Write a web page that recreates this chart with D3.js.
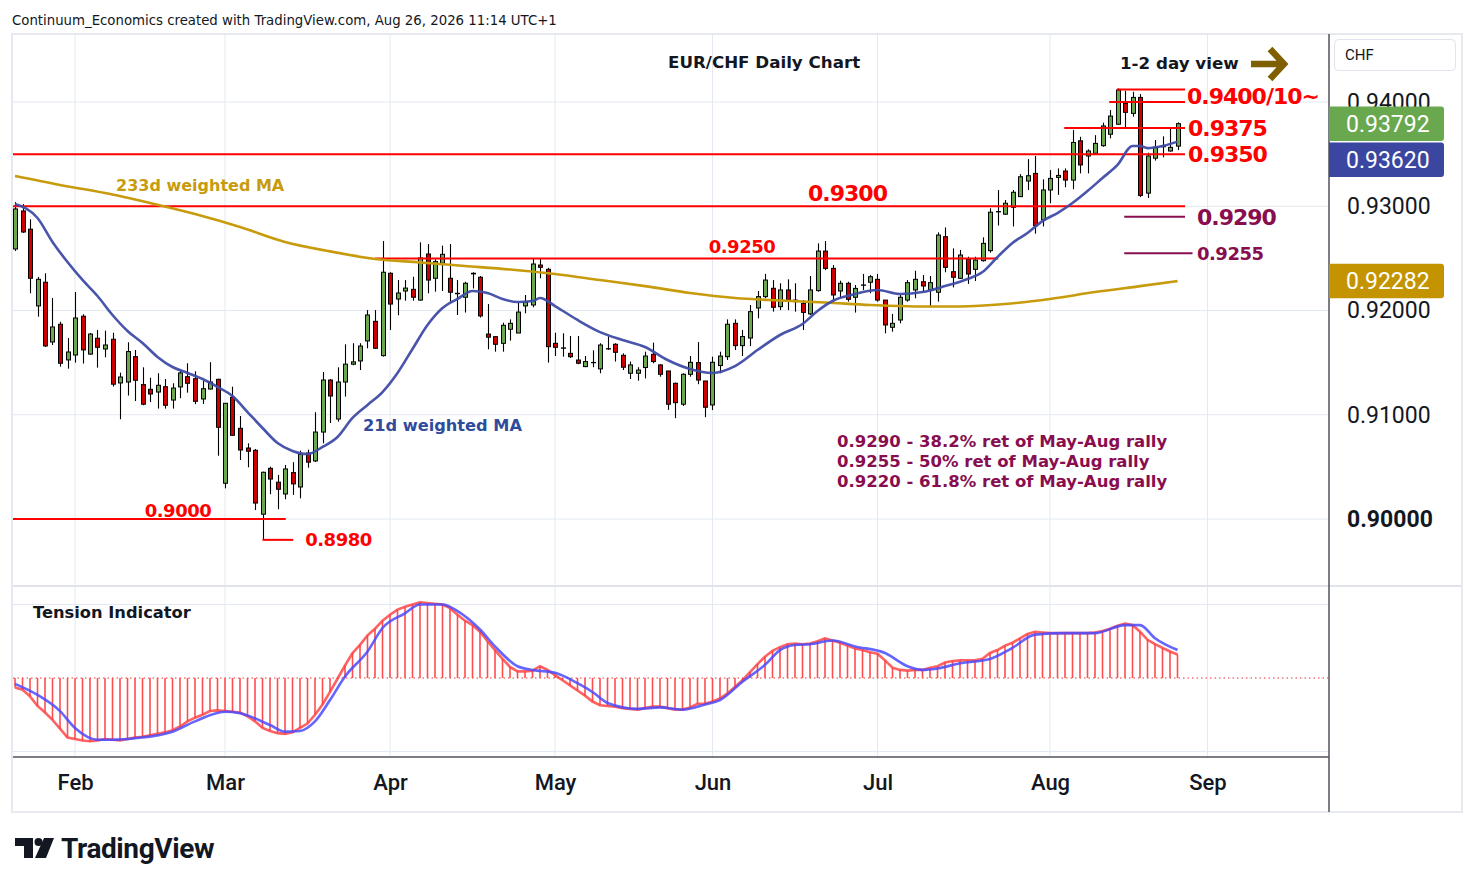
<!DOCTYPE html>
<html>
<head>
<meta charset="utf-8">
<script src="https://cdn.jsdelivr.net/npm/d3@7"></script>
<style>
body { margin: 0; background: #fff; }
svg { display: block; }
.lbl { font-family: "DejaVu Sans", Verdana, sans-serif; font-weight: bold; }
.axis text { font-family: Roboto, "Liberation Sans", sans-serif; fill: #131722; }
</style>
</head>
<body>
<div id="chart"></div>
<script>
// ---- data (bar index 1 = 21 Jan 2026, weekdays only) ----
var opens = [0.92590,0.92955,0.92780,0.92044,0.92271,0.91698,0.91868,0.91526,0.91573,0.91945,
  0.91582,0.91734,0.91631,0.91724,0.91305,0.91314,0.91557,0.91289,0.91244,0.91218,
  0.91269,0.91141,0.91267,0.91365,0.91346,0.91151,0.91247,0.91340,0.90343,0.91168,
  0.90870,0.90681,0.90659,0.90046,0.90486,0.90353,0.90240,0.90445,0.90307,0.90633,
  0.90557,0.90834,0.91333,0.90959,0.91314,0.91485,0.91516,0.91708,0.91896,0.91567,
  0.92357,0.92110,0.92187,0.92203,0.92100,0.92542,0.92309,0.92453,0.92309,0.92165,
  0.92127,0.92351,0.92319,0.91774,0.91749,0.91685,0.91820,0.91784,0.92044,0.92053,
  0.92436,0.92395,0.91685,0.91641,0.91589,0.91525,0.91462,0.91500,0.91440,0.91631,
  0.91676,0.91570,0.91398,0.91398,0.91453,0.91580,0.91478,0.91420,0.91302,0.91101,
  0.91388,0.91500,0.91324,0.91094,0.91472,0.91557,0.91877,0.91663,0.91736,0.92024,
  0.92133,0.92213,0.92037,0.92197,0.92100,0.92069,0.91967,0.92191,0.92570,0.92404,
  0.92187,0.92261,0.92127,0.92242,0.92271,0.92299,0.92100,0.91839,0.91909,0.92100,
  0.92197,0.92276,0.92197,0.92175,0.92708,0.92372,0.92309,0.92491,0.92395,0.92478,
  0.92574,0.92947,0.92924,0.92990,0.93092,0.93242,0.93315,0.92869,0.93156,0.93277,
  0.93338,0.93251,0.93628,0.93482,0.93508,0.93581,0.93691,0.93787,0.93987,0.93891,
  0.94044,0.93126,0.93461,0.93571,0.93530,0.93577];
var highs = [0.93040,0.93021,0.92875,0.92321,0.92357,0.92120,0.91892,0.91736,0.92177,0.91964,
  0.91784,0.91813,0.91807,0.91787,0.91404,0.91695,0.91621,0.91455,0.91355,0.91398,
  0.91343,0.91302,0.91429,0.91494,0.91417,0.91324,0.91504,0.91346,0.91113,0.91269,
  0.90988,0.90726,0.90672,0.90455,0.90502,0.90423,0.90518,0.90545,0.90656,0.90665,
  0.91024,0.91410,0.91343,0.91455,0.91676,0.91686,0.91686,0.92004,0.92004,0.92666,
  0.92367,0.92292,0.92292,0.92324,0.92654,0.92637,0.92491,0.92622,0.92637,0.92292,
  0.92276,0.92367,0.92331,0.92062,0.91755,0.91883,0.91915,0.92072,0.92149,0.92501,
  0.92501,0.92410,0.91787,0.91781,0.91755,0.91755,0.91563,0.91618,0.91686,0.91752,
  0.91686,0.91589,0.91510,0.91456,0.91605,0.91692,0.91485,0.91420,0.91308,0.91398,
  0.91563,0.91697,0.91324,0.91557,0.91605,0.91915,0.91915,0.91813,0.92053,0.92187,
  0.92351,0.92292,0.92261,0.92299,0.92261,0.92100,0.92331,0.92644,0.92666,0.92436,
  0.92286,0.92276,0.92245,0.92351,0.92340,0.92351,0.92100,0.91967,0.92149,0.92292,
  0.92381,0.92340,0.92331,0.92749,0.92797,0.92596,0.92581,0.92516,0.92516,0.92702,
  0.92981,0.93156,0.93060,0.93156,0.93308,0.93452,0.93483,0.93258,0.93347,0.93363,
  0.93363,0.93731,0.93666,0.93546,0.93682,0.93802,0.93923,0.94130,0.94107,0.94098,
  0.94076,0.93514,0.93636,0.93671,0.93756,0.93804];
var lows = [0.92571,0.92744,0.92165,0.91941,0.91651,0.91669,0.91461,0.91442,0.91500,0.91491,
  0.91575,0.91452,0.91551,0.91270,0.90957,0.91184,0.91132,0.91091,0.91122,0.91059,
  0.91059,0.91059,0.91159,0.91212,0.91101,0.91104,0.91242,0.90607,0.90294,0.90796,
  0.90566,0.90496,0.90086,0.89798,0.90238,0.90094,0.90189,0.90231,0.90198,0.90492,
  0.90547,0.90726,0.90921,0.90934,0.91174,0.91475,0.91429,0.91638,0.91631,0.91558,
  0.91813,0.91954,0.92094,0.92094,0.92094,0.92165,0.92181,0.92187,0.92085,0.91957,
  0.91980,0.92212,0.91932,0.91628,0.91605,0.91605,0.91711,0.91784,0.91973,0.92031,
  0.92309,0.91500,0.91564,0.91557,0.91545,0.91485,0.91456,0.91456,0.91398,0.91621,
  0.91510,0.91429,0.91343,0.91327,0.91349,0.91494,0.91365,0.91047,0.90967,0.91085,
  0.91365,0.91293,0.90977,0.91046,0.91398,0.91525,0.91621,0.91563,0.91659,0.91925,
  0.92117,0.91989,0.92004,0.92004,0.91989,0.91813,0.91957,0.92181,0.92387,0.92085,
  0.92117,0.92085,0.91980,0.92197,0.92165,0.92085,0.91781,0.91797,0.91877,0.92085,
  0.92117,0.92181,0.92037,0.92085,0.92367,0.92222,0.92302,0.92255,0.92283,0.92469,
  0.92555,0.92815,0.92917,0.92806,0.93092,0.93156,0.92737,0.92806,0.93029,0.93109,
  0.93182,0.93163,0.93315,0.93315,0.93502,0.93571,0.93652,0.93780,0.93749,0.93859,
  0.93088,0.93079,0.93438,0.93470,0.93524,0.93539];
var closes = [0.92974,0.92753,0.92309,0.92299,0.91660,0.91842,0.91494,0.91602,0.91928,0.91622,
  0.91774,0.91647,0.91669,0.91293,0.91362,0.91606,0.91331,0.91101,0.91199,0.91283,
  0.91091,0.91256,0.91401,0.91302,0.91129,0.91250,0.91314,0.90880,0.91110,0.90803,
  0.90662,0.90650,0.90153,0.90448,0.90383,0.90285,0.90480,0.90337,0.90621,0.90545,
  0.90834,0.91333,0.91180,0.91314,0.91485,0.91507,0.91659,0.91957,0.91638,0.92367,
  0.92062,0.92168,0.92215,0.92127,0.92504,0.92292,0.92469,0.92539,0.92175,0.92161,
  0.92261,0.92357,0.91948,0.91744,0.91676,0.91858,0.91877,0.91985,0.92078,0.92446,
  0.92414,0.91653,0.91647,0.91638,0.91557,0.91494,0.91510,0.91502,0.91669,0.91634,
  0.91599,0.91456,0.91478,0.91429,0.91563,0.91510,0.91388,0.91101,0.91116,0.91388,
  0.91503,0.91333,0.91072,0.91503,0.91563,0.91868,0.91663,0.91750,0.91989,0.92133,
  0.92292,0.92031,0.92197,0.92100,0.92085,0.91982,0.92197,0.92570,0.92404,0.92149,
  0.92261,0.92107,0.92212,0.92245,0.92324,0.92100,0.91861,0.91877,0.92127,0.92267,
  0.92299,0.92235,0.92267,0.92724,0.92414,0.92319,0.92532,0.92350,0.92484,0.92644,
  0.92943,0.92949,0.93029,0.93134,0.93283,0.93293,0.92813,0.93156,0.93267,0.93296,
  0.93251,0.93612,0.93396,0.93530,0.93603,0.93770,0.93865,0.94114,0.93901,0.94044,
  0.93104,0.93482,0.93565,0.93575,0.93565,0.93792];

var ma233Idx = [1,7,13,19,25,31,37,43,49,55,61,67,73,79,85,91,97,103,109,115,121,127,133,139,145,151,156];
var ma233Val = [0.93290,0.93204,0.93127,0.93031,0.92925,0.92801,0.92657,0.92567,0.92494,0.92461,
  0.92427,0.92393,0.92350,0.92292,0.92234,0.92168,0.92120,0.92096,0.92077,0.92053,
  0.92039,0.92039,0.92062,0.92111,0.92177,0.92234,0.92282];

var ma21Idx = [1,4,6,8,10,12,14,16,18,20,22,24,26,28,30,32,34,36,38,40,42,44,46,48,50,52,54,56,58,60,
  62,64,66,68,70,71,73,76,79,82,85,88,91,94,97,100,103,106,108,110,113,116,119,122,125,128,130,132,134,136,
  138,140,142,144,146,148,150,151,152,154,156];
var ma21Val = [0.93021,0.92887,0.92657,0.92465,0.92293,0.92139,0.91957,0.91804,0.91689,0.91555,
  0.91458,0.91401,0.91343,0.91267,0.91180,0.91026,0.90873,0.90729,0.90653,0.90623,
  0.90691,0.90787,0.90969,0.91094,0.91218,0.91401,0.91631,0.91861,0.92024,0.92111,
  0.92187,0.92168,0.92111,0.92081,0.92091,0.92120,0.92043,0.91909,0.91793,0.91717,
  0.91650,0.91525,0.91439,0.91401,0.91467,0.91621,0.91765,0.91870,0.91995,0.92091,
  0.92158,0.92196,0.92158,0.92177,0.92234,0.92302,0.92369,0.92513,0.92648,0.92743,
  0.92858,0.92935,0.93031,0.93146,0.93271,0.93396,0.93578,0.93578,0.93558,0.93578,
  0.93620];

// Tension indicator (one value per bar) and its signal line
var tension = [-13,-16,-25,-38,-47,-57,-69,-81,-83,-85,
  -86,-85,-83,-84,-85,-83,-81,-80,-78,-76,
  -74,-71,-66,-59,-54,-50,-45,-44,-45,-46,
  -47,-52,-59,-68,-72,-75,-76,-74,-68,-62,
  -50,-36,-19,-1,17,34,45,58,67,78,
  86,93,97,100,103,102,101,100,95,86,
  78,72,63,50,38,26,15,9,9,10,
  16,11,4,-3,-10,-17,-24,-32,-37,-38,
  -39,-41,-42,-43,-41,-39,-39,-41,-43,-43,
  -40,-35,-35,-32,-28,-21,-12,-3,8,19,
  29,37,42,46,47,46,47,50,54,51,
  48,44,40,38,35,33,24,14,11,10,
  11,11,14,16,21,23,24,24,24,26,
  34,38,44,48,54,60,63,62,61,61,
  61,61,61,61,62,64,67,71,74,72,
  63,52,46,41,36,32];
var signalIdx = [1,4,7,9,12,14,17,22,25,29,31,35,37,39,41,43,45,48,50,53,55,58,60,63,65,68,70,73,76,78,
  80,84,87,90,93,95,98,101,103,105,107,110,113,117,120,122,124,127,131,134,137,141,145,149,151,153,156];
var signalVal = [-8,-23,-45,-68,-84,-84,-82,-73,-59,-46,-48,-64,-73,-72,-59,-30,2,36,68,88,
  100,100,91,66,43,16,11,7,-7,-19,-34,-42,-40,-43,-36,-30,-5,18,38,45,
  46,51,43,34,16,11,13,20,26,41,59,61,61,72,72,54,38];

var monthLabels = ["Feb","Mar","Apr","May","Jun","Jul","Aug","Sep"];
var monthIdx = [9,29,51,73,94,116,139,160];
var priceTicks = [0.90,0.91,0.92,0.93,0.94];

// drawn support / resistance levels (red)
var levelVals = [0.9412,0.9400,0.9375,0.9350,0.9300,0.9250,0.9000,0.8980];
var levelFrom = [147.9,146.9,140.9,0.7,0.7,49,0.7,34];
var levelTo   = [157,157,157,157,157,132.1,37.1,38.1];
// retracement levels (maroon)
var fibVals = [0.9290,0.9255];
var fibFrom = [148.9,148.9];
var fibTo   = [157,158];
var fibNotes = ["0.9290 - 38.2% ret of May-Aug rally","0.9255 - 50% ret of May-Aug rally","0.9220 - 61.8% ret of May-Aug rally"];

// ---- layout ----
var W = 1474, H = 887;
var plotL = 13, plotR = 1329, plotT = 35, paneSep = 586, axisY = 757, bottom = 812;
var green = "#6aa84f", red = "#cc0000", lineRed = "#ff0000", maroon = "#880e4f";

var x = d3.scaleLinear().domain([0, 176]).range([7.5, 1327.5]);
var y = d3.scaleLinear().domain([0.90, 0.94]).range([519, 102]);
var ty = d3.scaleLinear().domain([-100, 100]).range([751.5, 604.5]);

var svg = d3.select("#chart").append("svg").attr("width", W).attr("height", H);
var defs = svg.append("defs");
defs.append("clipPath").attr("id", "clipMain").append("rect")
  .attr("x", plotL).attr("y", plotT).attr("width", plotR - plotL).attr("height", paneSep - plotT);
defs.append("clipPath").attr("id", "clipTen").append("rect")
  .attr("x", plotL).attr("y", paneSep + 1).attr("width", plotR - plotL).attr("height", axisY - paneSep - 1);

// header
svg.append("text").attr("x", 12).attr("y", 25)
  .attr("font-family", "'DejaVu Sans', Verdana, sans-serif").attr("font-size", 13.3).attr("fill", "#131722")
  .text("Continuum_Economics created with TradingView.com, Aug 26, 2026 11:14 UTC+1");

// frame
svg.append("rect").attr("x", 12).attr("y", 34).attr("width", 1450).attr("height", bottom - 34)
  .attr("fill", "none").attr("stroke", "#e6e9ef").attr("stroke-width", 2);

// grid
var grid = svg.append("g");
grid.selectAll(".hg").data(priceTicks).enter().append("line")
  .attr("x1", plotL).attr("x2", plotR).attr("y1", function(d){ return y(d); }).attr("y2", function(d){ return y(d); })
  .attr("stroke", "#e3e9f0").attr("stroke-width", 1);
grid.selectAll(".tg").data([-100, 100]).enter().append("line")
  .attr("x1", plotL).attr("x2", plotR).attr("y1", function(d){ return ty(d); }).attr("y2", function(d){ return ty(d); })
  .attr("stroke", "#e3e9f0").attr("stroke-width", 1);
grid.selectAll(".vg").data(monthIdx).enter().append("line")
  .attr("x1", function(d){ return x(d); }).attr("x2", function(d){ return x(d); })
  .attr("y1", plotT).attr("y2", axisY)
  .attr("stroke", "#e3e9f0").attr("stroke-width", 1);

// pane separators and axis lines
svg.append("line").attr("x1", plotL).attr("x2", 1461).attr("y1", paneSep).attr("y2", paneSep)
  .attr("stroke", "#e0e3eb").attr("stroke-width", 2);
svg.append("line").attr("x1", plotL).attr("x2", plotR).attr("y1", axisY).attr("y2", axisY)
  .attr("stroke", "#50535e").attr("stroke-width", 1.5);
svg.append("line").attr("x1", plotR).attr("x2", plotR).attr("y1", 34).attr("y2", bottom)
  .attr("stroke", "#50535e").attr("stroke-width", 1.5);

// ---- main pane ----
var main = svg.append("g").attr("clip-path", "url(#clipMain)");

var bars = d3.range(opens.length).map(function(k){
  return { i: k + 1, o: opens[k], h: highs[k], l: lows[k], c: closes[k] };
});

var candles = main.append("g");
candles.selectAll(".wick").data(bars).enter().append("line")
  .attr("x1", function(d){ return Math.round(x(d.i)) + 0.5; })
  .attr("x2", function(d){ return Math.round(x(d.i)) + 0.5; })
  .attr("y1", function(d){ return y(d.h); }).attr("y2", function(d){ return y(d.l); })
  .attr("stroke", "#000").attr("stroke-width", 1.1);
candles.selectAll(".body").data(bars).enter().append("rect")
  .attr("x", function(d){ return Math.round(x(d.i)) - 1.5; })
  .attr("width", 4)
  .attr("y", function(d){ return y(Math.max(d.o, d.c)); })
  .attr("height", function(d){ return Math.max(0.3, Math.abs(y(d.o) - y(d.c))); })
  .attr("fill", function(d){ return d.c >= d.o ? green : red; })
  .attr("stroke", "#000").attr("stroke-width", 1);

// level lines
main.selectAll(".lvl").data(levelVals).enter().append("line")
  .attr("x1", function(d, k){ return x(levelFrom[k]); })
  .attr("x2", function(d, k){ return x(levelTo[k]); })
  .attr("y1", function(d){ return y(d); }).attr("y2", function(d){ return y(d); })
  .attr("stroke", lineRed).attr("stroke-width", 2);
main.selectAll(".fib").data(fibVals).enter().append("line")
  .attr("x1", function(d, k){ return x(fibFrom[k]); })
  .attr("x2", function(d, k){ return x(fibTo[k]); })
  .attr("y1", function(d){ return y(d); }).attr("y2", function(d){ return y(d); })
  .attr("stroke", maroon).attr("stroke-width", 2);

// moving averages
var maLine = d3.line().curve(d3.curveMonotoneX)
  .x(function(d){ return x(d[0]); }).y(function(d){ return y(d[1]); });
main.append("path").datum(d3.zip(ma233Idx, ma233Val)).attr("d", maLine)
  .attr("fill", "none").attr("stroke", "#c89b0c").attr("stroke-width", 2.6);
main.append("path").datum(d3.zip(ma21Idx, ma21Val)).attr("d", maLine)
  .attr("fill", "none").attr("stroke", "#3f4ba6").attr("stroke-width", 2.6).attr("stroke-opacity", 0.95);

// text labels
function label(g, txt, px, py, size, color, extra) {
  var t = g.append("text").attr("class", "lbl").attr("x", px).attr("y", py)
    .attr("font-size", size).attr("fill", color).text(txt);
  if (extra && extra.anchor) t.attr("text-anchor", extra.anchor);
  if (extra && extra.ls !== undefined) t.attr("letter-spacing", extra.ls);
  return t;
}
var labels = svg.append("g");
label(labels, "EUR/CHF Daily Chart", 668, 68, 16.7, "#131722");
label(labels, "1-2 day view", 1120, 69, 16.7, "#131722");
label(labels, "0.9400/10~", x(157) + 2, y(0.94) + 2, 22, lineRed, { ls: -1 });
label(labels, "0.9375", x(157) + 3, y(0.9375) + 8, 22, lineRed, { ls: -1 });
label(labels, "0.9350", x(157) + 3, y(0.9350) + 8, 22, lineRed, { ls: -1 });
label(labels, "0.9300", x(112), y(0.93) - 5, 22, lineRed, { ls: -1, anchor: "middle" });
label(labels, "0.9250", x(93.5), y(0.925) - 5, 18, lineRed, { ls: -0.5 });
label(labels, "0.9000", x(18.3), y(0.90) - 2, 18, lineRed, { ls: -0.5 });
label(labels, "0.8980", x(39.7), y(0.898) + 6.5, 18, lineRed, { ls: -0.5 });
label(labels, "0.9290", x(158.6), y(0.929) + 8, 22, maroon, { ls: -1 });
label(labels, "0.9255", x(158.6), y(0.9255) + 6.5, 18, maroon, { ls: -0.5 });
fibNotes.forEach(function(s, k){
  label(labels, s, 837, 447 + k * 20, 16.5, maroon);
});
label(labels, "233d weighted MA", 116, 190.5, 16, "#c89b0c");
label(labels, "21d weighted MA", 363, 431, 16.2, "#2f4c9c");

// arrow
svg.append("path").attr("d", "M1251,64 H1280 M1270,49 L1284,64 L1270,79")
  .attr("fill", "none").attr("stroke", "#7f6000").attr("stroke-width", 6.5)
  .attr("stroke-linejoin", "miter").attr("stroke-linecap", "butt");

// ---- tension pane ----
var ten = svg.append("g").attr("clip-path", "url(#clipTen)");
ten.append("line").attr("x1", plotL).attr("x2", plotR).attr("y1", ty(0)).attr("y2", ty(0))
  .attr("stroke", "#e53935").attr("stroke-width", 1.2).attr("stroke-dasharray", "1.5,3");
ten.selectAll(".hist").data(tension).enter().append("line")
  .attr("x1", function(d, k){ return x(k + 1); }).attr("x2", function(d, k){ return x(k + 1); })
  .attr("y1", ty(0)).attr("y2", function(d){ return ty(d); })
  .attr("stroke", "#ff4d4d").attr("stroke-width", 1.6);
ten.append("path").datum(tension)
  .attr("d", d3.line().x(function(d, k){ return x(k + 1); }).y(function(d){ return ty(d); }))
  .attr("fill", "none").attr("stroke", "#ff3b3b").attr("stroke-opacity", 0.8).attr("stroke-width", 2.6);
ten.append("path").datum(d3.zip(signalIdx, signalVal))
  .attr("d", d3.line().curve(d3.curveMonotoneX).x(function(d){ return x(d[0]); }).y(function(d){ return ty(d[1]); }))
  .attr("fill", "none").attr("stroke", "#4a4aff").attr("stroke-opacity", 0.85).attr("stroke-width", 2.6);
label(svg, "Tension Indicator", 33, 618, 16.3, "#131722");

// ---- axes ----
var yAxis = svg.append("g").attr("class", "axis").attr("transform", "translate(" + plotR + ",0)")
  .call(d3.axisRight(y).tickValues(priceTicks).tickFormat(d3.format(".5f")).tickSize(0).tickPadding(18));
yAxis.select(".domain").remove();
yAxis.selectAll("text").attr("font-size", 23)
  .attr("font-weight", function(d){ return d === 0.90 ? 700 : 400; });

var xAxis = svg.append("g").attr("class", "axis").attr("transform", "translate(0," + axisY + ")")
  .call(d3.axisBottom(x).tickValues(monthIdx).tickFormat(function(d, k){ return monthLabels[k]; }).tickSize(0).tickPadding(17));
xAxis.select(".domain").remove();
xAxis.selectAll("text").attr("font-size", 22).attr("font-weight", 500);

// currency box
svg.append("rect").attr("x", 1334.5).attr("y", 39.5).attr("width", 121).attr("height", 31).attr("rx", 4)
  .attr("fill", "#fff").attr("stroke", "#e0e3eb");
svg.append("text").attr("x", 1345).attr("y", 60).attr("font-family", "Roboto, sans-serif")
  .attr("font-size", 15).attr("fill", "#131722").text("CHF");

// last value boxes
var fmt = d3.format(".5f");
var lastClose = closes[closes.length - 1];
var boxH = 34.5;
var gy = y(lastClose);
var by = Math.max(y(ma21Val[ma21Val.length - 1]), gy + boxH + 1.5);
var oy = y(ma233Val[ma233Val.length - 1]);
[[gy, green, lastClose], [by, "#3a46a0", ma21Val[ma21Val.length - 1]], [oy, "#c49400", ma233Val[ma233Val.length - 1]]]
  .forEach(function(b){
    svg.append("path")
      .attr("d", "M" + plotR + "," + (b[0] - boxH / 2) + " H1441 q3,0 3,3 V" + (b[0] + boxH / 2 - 3) + " q0,3 -3,3 H" + plotR + " Z")
      .attr("fill", b[1]);
    svg.append("text").attr("x", 1346).attr("y", b[0] + 8.3).attr("font-family", "Roboto, sans-serif")
      .attr("font-size", 23).attr("fill", "#fff").text(fmt(b[2]));
  });

// TradingView logo
var logo = svg.append("g").attr("fill", "#131722");
logo.append("path").attr("d", "M15,838 H33 V858 H24 V846 H15 Z");
logo.append("circle").attr("cx", 38.5).attr("cy", 842).attr("r", 4);
logo.append("path").attr("d", "M44,838 H54 L46,858 H35 Z");
svg.append("text").attr("x", 61).attr("y", 858).attr("font-family", "Roboto, sans-serif")
  .attr("font-weight", 700).attr("font-size", 28).attr("letter-spacing", -0.4).attr("fill", "#131722")
  .text("TradingView");
</script>
</body>
</html>
